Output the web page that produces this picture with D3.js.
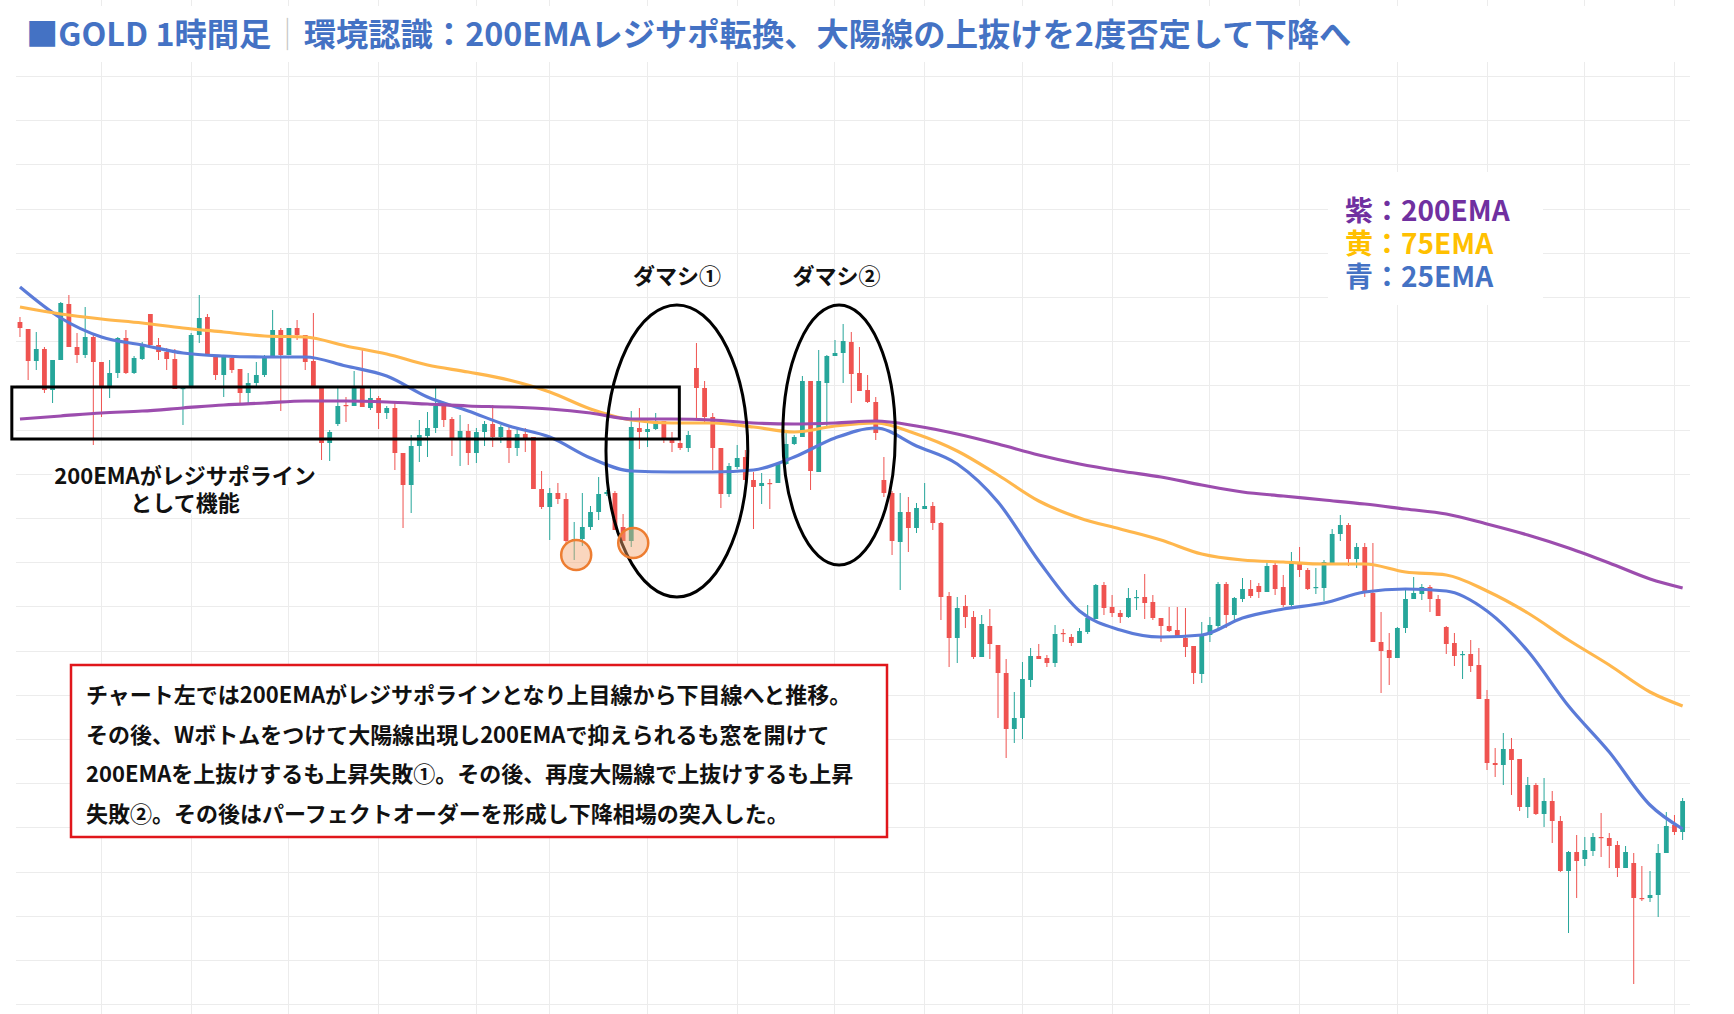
<!DOCTYPE html>
<html>
<head>
<meta charset="utf-8">
<script src="https://cdn.jsdelivr.net/npm/d3@7"></script>
<style>
  html, body { margin: 0; padding: 0; background: #fff; }
  svg { display: block; }
  text { font-family: "Noto Sans CJK JP", "Noto Sans", sans-serif; font-weight: 700; }
</style>
</head>
<body>
<script>
// GOLD 1H candles (one value per bar)
const opens = [1967.8,1967.1,1963.9,1965.1,1961.0,1964.0,1969.6,1965.3,1964.5,1966.3,1963.8,1961.2,1962.7,1966.2,1962.7,1964.1,1968.6,1965.5,1964.8,1964.1,
  1961.1,1961.2,1966.5,1968.3,1964.5,1962.5,1964.2,1963.1,1960.7,1961.7,1962.5,1964.4,1967.0,1964.5,1967.2,1966.5,1963.9,1961.3,1955.7,1957.6,
  1959.5,1959.4,1961.3,1959.2,1960.2,1958.7,1959.2,1954.7,1951.5,1955.4,1956.4,1957.2,1959.4,1958.1,1956.2,1956.9,1954.7,1956.8,1957.6,1956.3,
  1957.0,1955.2,1956.6,1956.3,1951.1,1949.3,1950.7,1950.1,1945.9,1946.1,1947.3,1948.8,1950.6,1950.7,1947.3,1945.9,1957.2,1956.8,1957.1,1957.9,
  1956.0,1955.7,1955.2,1963.2,1961.2,1958.3,1955.2,1950.6,1953.3,1954.3,1952.0,1951.4,1951.7,1951.7,1953.6,1955.6,1956.3,1961.9,1952.8,1961.7,
  1964.4,1964.7,1965.8,1962.7,1961.0,1959.8,1952.0,1950.7,1945.8,1948.8,1947.2,1949.1,1949.4,1947.7,1940.4,1936.2,1939.4,1938.3,1934.3,1937.4,
  1935.5,1932.7,1927.1,1928.2,1932.0,1934.4,1934.2,1933.7,1936.7,1936.3,1935.7,1936.8,1938.1,1941.5,1939.3,1938.7,1938.3,1940.2,1940.3,1939.8,
  1938.2,1937.4,1937.0,1936.2,1935.4,1932.6,1936.5,1937.4,1941.6,1938.5,1940.1,1941.1,1941.4,1940.8,1943.5,1941.3,1939.5,1943.7,1943.0,1941.2,
  1941.2,1943.7,1946.6,1947.5,1944.1,1945.3,1940.7,1935.8,1935.0,1934.2,1937.2,1940.1,1940.6,1941.3,1940.1,1937.3,1935.7,1934.5,1934.6,1933.5,
  1930.1,1923.7,1923.5,1925.1,1924.1,1919.3,1921.5,1918.6,1919.9,1917.9,1912.9,1914.8,1914.1,1914.9,1916.3,1916.2,1915.5,1913.2,1913.7,1910.2,
  1910.2,1910.5,1914.7,1917.5,1916.8];
const highs = [1968.3,1967.1,1966.8,1965.3,1964.0,1969.8,1970.5,1966.7,1969.3,1966.5,1963.8,1964.0,1966.3,1967.0,1964.4,1965.8,1968.6,1966.2,1965.2,1965.1,
  1961.3,1966.7,1970.5,1968.6,1964.5,1964.5,1964.5,1963.1,1962.7,1963.8,1964.5,1969.0,1967.2,1967.2,1968.0,1966.5,1968.7,1961.3,1957.0,1961.2,
  1960.3,1962.9,1965.2,1961.2,1960.4,1959.4,1959.7,1954.7,1956.5,1958.0,1958.8,1961.2,1959.6,1958.3,1958.5,1957.6,1957.2,1957.9,1959.5,1957.5,
  1957.3,1957.3,1957.2,1956.3,1952.9,1951.2,1951.7,1950.7,1947.8,1950.7,1949.4,1952.3,1951.0,1950.9,1948.6,1958.9,1959.2,1958.0,1958.7,1957.9,
  1956.8,1956.2,1956.9,1965.7,1961.9,1958.7,1955.2,1953.7,1955.5,1955.0,1952.8,1952.7,1952.1,1953.8,1956.7,1956.5,1962.4,1961.9,1965.0,1964.5,
  1966.0,1967.6,1966.8,1965.3,1962.5,1960.3,1954.3,1950.9,1950.7,1950.3,1949.7,1951.7,1949.8,1947.8,1940.8,1940.3,1940.5,1938.9,1938.5,1939.1,
  1935.5,1934.1,1930.8,1933.8,1935.2,1935.6,1934.5,1937.5,1937.1,1936.6,1937.2,1939.5,1941.6,1941.8,1940.5,1939.0,1941.2,1941.0,1942.6,1940.5,
  1938.2,1939.3,1939.3,1939.2,1935.4,1937.8,1938.3,1941.8,1941.8,1940.3,1942.2,1942.0,1941.7,1944.0,1943.7,1942.5,1944.8,1945.3,1943.2,1943.2,
  1944.0,1947.1,1948.5,1947.7,1945.7,1945.7,1945.7,1938.8,1936.7,1937.3,1941.0,1942.3,1941.6,1941.5,1940.5,1937.4,1936.7,1934.9,1936.0,1935.2,
  1931.0,1925.2,1926.7,1926.2,1924.1,1922.3,1921.7,1922.2,1920.9,1918.4,1914.9,1916.5,1916.3,1916.7,1918.7,1916.7,1915.9,1915.4,1914.7,1913.4,
  1912.9,1915.6,1918.8,1918.5,1920.2];
const lows = [1966.3,1962.0,1963.0,1960.7,1959.7,1964.0,1965.3,1963.7,1964.2,1955.5,1958.3,1960.2,1962.2,1962.6,1962.6,1964.0,1965.5,1964.0,1963.0,1961.1,
  1957.5,1961.2,1965.7,1964.5,1962.0,1960.3,1962.7,1959.7,1959.7,1961.3,1962.3,1964.4,1958.9,1964.5,1966.0,1963.0,1961.2,1954.0,1953.9,1957.4,
  1957.8,1959.4,1959.3,1959.0,1957.1,1958.1,1953.0,1947.2,1948.7,1953.8,1954.3,1956.7,1957.3,1954.4,1953.4,1953.5,1953.7,1955.4,1955.3,1955.7,
  1953.7,1954.4,1954.8,1951.1,1949.1,1946.0,1949.6,1945.5,1944.0,1945.4,1947.0,1948.0,1950.4,1947.0,1945.9,1945.3,1955.1,1955.3,1957.0,1955.7,
  1954.8,1955.0,1954.8,1958.2,1957.8,1953.0,1949.2,1950.3,1953.1,1952.0,1947.1,1949.6,1949.1,1951.7,1953.5,1955.5,1956.3,1951.0,1952.8,1957.2,
  1964.4,1961.7,1959.7,1960.9,1959.7,1956.0,1950.3,1944.5,1941.0,1944.8,1946.7,1949.1,1947.0,1938.0,1933.3,1933.7,1937.2,1934.1,1934.3,1934.1,
  1928.2,1924.2,1925.7,1926.1,1931.3,1934.1,1933.3,1933.3,1935.8,1935.4,1935.7,1936.6,1938.1,1938.5,1938.3,1937.7,1938.2,1939.0,1938.1,1938.0,
  1935.8,1936.8,1936.2,1934.3,1931.6,1931.7,1935.8,1936.9,1937.2,1937.8,1939.8,1940.2,1940.2,1940.8,1940.5,1939.3,1939.3,1942.3,1941.0,1940.6,
  1939.9,1943.7,1945.9,1943.4,1943.2,1940.3,1935.8,1930.7,1931.5,1934.2,1936.7,1940.1,1940.0,1938.8,1938.4,1934.6,1933.4,1932.1,1932.8,1930.1,
  1923.0,1922.3,1921.5,1920.5,1918.9,1918.2,1918.5,1917.3,1915.7,1912.8,1906.7,1910.2,1913.4,1914.4,1914.3,1913.2,1912.3,1913.2,1901.6,1909.9,
  1909.8,1908.3,1914.7,1916.5,1916.0];
const closes = [1967.2,1963.9,1965.1,1961.0,1964.0,1969.7,1965.3,1964.5,1966.3,1963.8,1961.2,1962.7,1966.2,1962.7,1964.2,1965.5,1965.5,1964.8,1964.1,1961.1,
  1961.2,1966.5,1968.2,1964.5,1962.5,1964.3,1963.0,1960.7,1961.7,1962.5,1964.4,1967.0,1964.5,1967.2,1966.5,1963.8,1961.2,1955.7,1956.8,1959.4,
  1959.4,1961.3,1959.3,1960.2,1958.7,1959.2,1954.7,1951.5,1955.4,1956.5,1957.2,1959.4,1958.0,1956.2,1956.9,1954.7,1956.8,1957.6,1956.3,1957.3,
  1955.2,1956.6,1956.2,1951.1,1949.3,1950.7,1950.1,1945.9,1946.1,1947.3,1948.8,1950.6,1950.8,1947.0,1945.9,1957.3,1956.8,1957.1,1957.9,1956.2,
  1955.7,1955.2,1956.5,1961.2,1958.3,1955.2,1950.6,1953.4,1954.2,1952.0,1951.3,1951.7,1951.6,1953.6,1955.6,1956.3,1961.9,1952.9,1961.9,1964.4,
  1964.7,1965.9,1962.6,1960.9,1959.8,1956.7,1950.7,1945.9,1948.8,1947.2,1949.2,1949.4,1947.7,1940.3,1936.2,1939.2,1938.3,1934.3,1937.6,1935.6,
  1932.7,1927.1,1928.2,1932.1,1934.4,1934.1,1933.7,1936.6,1936.6,1935.7,1936.9,1938.2,1941.5,1939.2,1938.7,1938.3,1940.2,1940.3,1939.7,1938.2,
  1937.4,1936.9,1936.3,1935.3,1932.7,1936.5,1937.5,1941.6,1938.5,1940.2,1941.1,1940.4,1940.8,1943.4,1941.1,1939.5,1943.7,1943.0,1941.1,1941.3,
  1943.8,1946.6,1947.5,1944.1,1945.3,1940.7,1935.8,1934.9,1934.2,1937.2,1940.1,1940.7,1941.3,1940.1,1938.4,1935.6,1934.4,1934.6,1933.4,1930.1,
  1923.7,1923.5,1925.1,1924.0,1919.3,1921.5,1918.6,1919.9,1917.9,1912.9,1914.8,1913.9,1915.0,1916.3,1916.2,1915.4,1913.2,1914.8,1910.2,1910.1,
  1910.5,1914.7,1917.4,1916.8,1919.9];

// EMA lines, read every 5 bars
const emaIdx = [0,5,10,15,20,25,30,35,40,45,50,55,60,65,70,75,80,85,90,95,100,105,110,115,120,125,130,135,140,145,150,155,160,165,170,175,180,185,190,195,200,204];
const ema200 = [1958.1,1958.4,1958.7,1958.9,1959.2,1959.5,1959.7,1959.9,1959.9,1959.8,1959.6,1959.4,1959.3,1959.1,1958.7,1958.1,1958.1,1958.0,1957.7,1957.6,1957.7,
  1957.9,1957.4,1956.6,1955.6,1954.5,1953.6,1952.9,1952.3,1951.5,1950.8,1950.4,1950.0,1949.6,1949.1,1948.6,1947.6,1946.5,1945.2,1943.7,1942.1,1941.2];
const ema75 = [1969.3,1968.6,1968.1,1967.7,1967.2,1966.8,1966.4,1966.3,1965.4,1964.6,1963.5,1962.8,1962.0,1960.8,1959.1,1958.0,1957.7,1957.7,1957.3,1956.8,1957.4,
  1957.7,1956.6,1954.9,1952.5,1949.9,1948.2,1947.1,1946.0,1944.6,1944.0,1943.8,1943.6,1943.6,1942.8,1942.5,1940.9,1938.7,1936.0,1933.5,1930.8,1929.4];
const ema25 = [1971.3,1968.2,1966.3,1965.5,1964.7,1964.4,1964.3,1964.3,1963.4,1962.4,1960.3,1958.9,1957.4,1956.3,1954.2,1952.9,1952.8,1952.8,1953.0,1954.3,1956.2,
  1957.2,1955.4,1953.6,1949.8,1943.9,1938.9,1937.0,1936.3,1936.5,1938.2,1939.1,1939.7,1940.8,1941.1,1940.9,1938.9,1934.9,1929.4,1924.8,1919.5,1917.1];

// grid: vertical at bar index, horizontal at price
const vGridIdx = [10,21,33,44,56,65,77,88,100,111,123,134,146,157,169,180,192,203];
const hGrid = [1992.4,1988.0,1983.6,1979.1,1974.7,1970.3,1965.9,1961.5,1957.0,1952.6,1948.2,1943.8,1939.4,1934.9,1930.5,1926.1,1921.7,1917.3,1912.8,1908.4,1904.0,1899.6];

// texts
const titleMain = '■GOLD 1時間足';
const titleRest = '環境認識：200EMAレジサポ転換、大陽線の上抜けを2度否定して下降へ';
const legendRows = [['紫：200EMA', '#7030a0'], ['黄：75EMA', '#ffc000'], ['青：25EMA', '#4472c4']];
const boxLines = [
  'チャート左では200EMAがレジサポラインとなり上目線から下目線へと推移。',
  'その後、Wボトムをつけて大陽線出現し200EMAで抑えられるも窓を開けて',
  '200EMAを上抜けするも上昇失敗①。その後、再度大陽線で上抜けするも上昇',
  '失敗②。その後はパーフェクトオーダーを形成し下降相場の突入した。'
];

const W = 1734, H = 1014;
const up = '#26a69a', down = '#ef5350';

const svg = d3.select('body').append('svg').attr('width', W).attr('height', H);
svg.append('rect').attr('width', W).attr('height', H).attr('fill', '#fff');

const n = opens.length;
const bars = opens.map((o, i) => ({i: i, o: o, h: highs[i], l: lows[i], c: closes[i]}));

const x = d3.scaleLinear().domain([-0.5, n - 0.5]).range([15.9, 1686.7]);
const y = d3.scaleLinear().domain([2000, 1900]).range([0, 1000]);

// grid
const grid = svg.append('g')
  .attr('stroke', '#ececec')
  .attr('stroke-width', 1)
  .attr('shape-rendering', 'crispEdges');
grid.selectAll('line.h').data(hGrid).join('line')
  .attr('class', 'h')
  .attr('x1', 16).attr('x2', 1690)
  .attr('y1', d => y(d)).attr('y2', d => y(d));
grid.selectAll('line.v').data(vGridIdx).join('line')
  .attr('class', 'v')
  .attr('x1', d => x(d)).attr('x2', d => x(d))
  .attr('y1', 0).attr('y2', H);

// title background
svg.append('rect').attr('x', 0).attr('y', 6).attr('width', W).attr('height', 56).attr('fill', '#fff');

// candles
const candles = svg.append('g');
candles.selectAll('line').data(bars).join('line')
  .attr('x1', d => x(d.i)).attr('x2', d => x(d.i))
  .attr('y1', d => y(d.h)).attr('y2', d => y(d.l))
  .attr('stroke', d => d.c >= d.o ? up : down)
  .attr('stroke-width', 1);
let bodyW = 4.8;
candles.selectAll('rect').data(bars).join('rect')
  .attr('x', d => x(d.i) - bodyW / 2)
  .attr('width', bodyW)
  .attr('y', d => y(Math.max(d.o, d.c)))
  .attr('height', d => Math.max(1.2, Math.abs(y(d.o) - y(d.c))))
  .attr('fill', d => d.c >= d.o ? up : down);

// EMA lines
const line = d3.line().x(d => x(d[0])).y(d => y(d[1])).curve(d3.curveMonotoneX);
[[ema25, '#5b7bd8'], [ema75, '#ffb74d'], [ema200, '#9c4dae']].forEach(([vals, col]) => {
  svg.append('path')
    .datum(emaIdx.map((d, i) => [d, vals[i]]))
    .attr('fill', 'none')
    .attr('stroke', col)
    .attr('stroke-width', 3.2)
    .attr('stroke-linejoin', 'round')
    .attr('d', line);
});

// annotations (bar index / price space)
const ann = svg.append('g').attr('fill', 'none').attr('stroke', '#000').attr('stroke-width', 3);
ann.append('rect')
  .attr('x', x(-1.0)).attr('y', y(1961.3))
  .attr('width', x(80.9) - x(-1.0)).attr('height', y(1956.1) - y(1961.3));
[[80.6, 1954.9, 8.7, 14.6], [100.5, 1956.5, 6.9, 13.0]].forEach(([ci, cp, ri, rp]) => {
  ann.append('ellipse')
    .attr('cx', x(ci)).attr('cy', y(cp))
    .attr('rx', x(ci + ri) - x(ci)).attr('ry', y(cp - rp) - y(cp));
});
[[68, 1944.5], [75, 1945.7]].forEach(([ci, cp]) => {
  svg.append('circle')
    .attr('cx', x(ci) + 2).attr('cy', y(cp)).attr('r', 15)
    .attr('fill', 'rgba(244,164,110,0.45)')
    .attr('stroke', '#ed7d31').attr('stroke-width', 2.5);
});

function label(txt, px, py, size, col, anchor, bg) {
  const t = svg.append('text')
    .attr('x', px).attr('y', py)
    .attr('font-size', size)
    .attr('fill', col)
    .attr('text-anchor', anchor || 'start')
    .text(txt);
  if (bg) {
    const b = t.node().getBBox();
    svg.insert('rect', () => t.node())
      .attr('x', b.x - 2).attr('y', py - size * 0.9).attr('width', b.width + 4).attr('height', size * 1.05)
      .attr('fill', '#fff');
  }
  return t;
}

label('ダマシ①', x(80.6), y(1971.6), 22, '#111', 'middle');
label('ダマシ②', x(100.2), y(1971.6), 22, '#111', 'middle');
label('200EMAがレジサポライン', 185, 484, 22, '#111', 'middle', true);
label('として機能', 185, 511, 22, '#111', 'middle', true);

// legend
svg.append('rect').attr('x', 1328).attr('y', 172).attr('width', 215).attr('height', 133).attr('fill', '#fff');
legendRows.forEach((r, i) => {
  label(r[0], 1345, 221 + i * 33, 28, r[1]);
});

// comment box
svg.append('rect')
  .attr('x', 71).attr('y', 665).attr('width', 816).attr('height', 172)
  .attr('fill', '#fff').attr('stroke', '#e0161b').attr('stroke-width', 2.5);
boxLines.forEach((s, i) => {
  label(s, 86, 703 + i * 39.5, 22, '#111');
});

// title
const title = svg.append('text').attr('x', 26).attr('y', 46).attr('font-size', 32.3).attr('fill', '#4472c4');
title.append('tspan').text(titleMain);
title.append('tspan').attr('fill', '#c8c8c8').attr('font-weight', 300).text('｜');
title.append('tspan').text(titleRest);
</script>
</body>
</html>
